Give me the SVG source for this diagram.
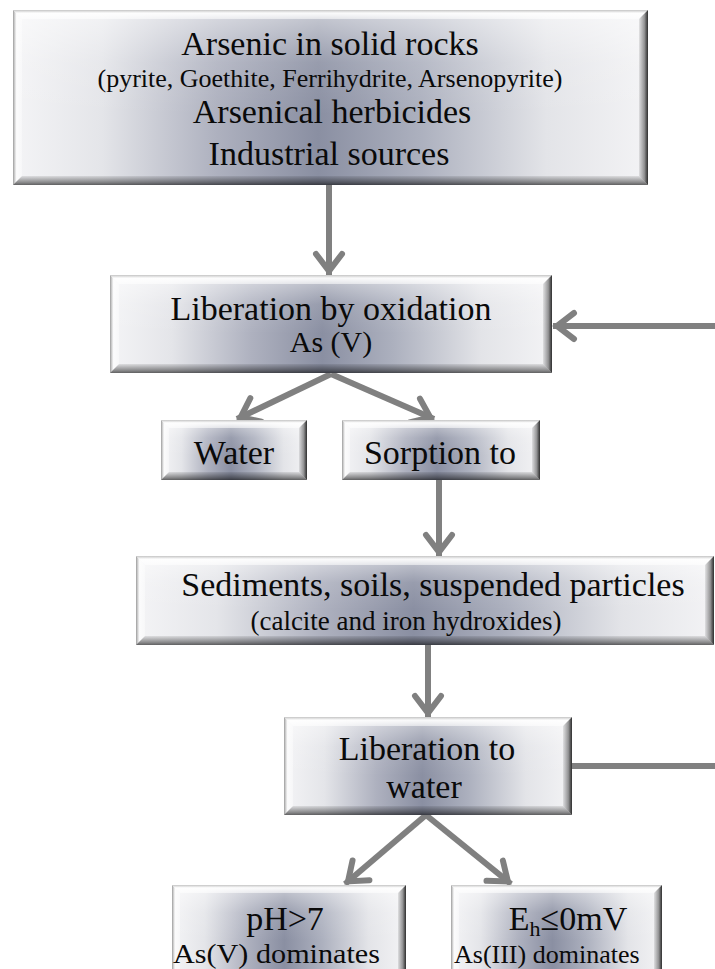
<svg xmlns="http://www.w3.org/2000/svg" width="715" height="969" viewBox="0 0 715 969">
  <style>
    .t { font-family: "Liberation Serif", "Times New Roman", serif; fill: #0a0a0a; text-anchor: middle; }
    .l { text-anchor: start; }
    .big { font-size: 34px; }
    .mid { font-size: 30px; }
    .sml { font-size: 26px; }
    .face { fill: url(#face); }
    .gloss { fill: url(#gloss); }
    .bt { fill: url(#bevT); }
    .bl { fill: url(#bevL); }
    .br { fill: url(#bevR); }
    .bb { fill: url(#bevB); }
    .conn { fill: none; stroke: #808080; stroke-width: 6; }
    .arr { marker-end: url(#ah); }
  </style>
  <defs>
    <!-- brushed-metal face, dark band across the middle -->
    <linearGradient id="face" x1="0" y1="0" x2="1" y2="0">
      <stop offset="0" stop-color="#f4f4f6"/>
      <stop offset="0.14" stop-color="#e4e5e9"/>
      <stop offset="0.32" stop-color="#aeb1bf"/>
      <stop offset="0.48" stop-color="#8a8fa2"/>
      <stop offset="0.64" stop-color="#acb0be"/>
      <stop offset="0.84" stop-color="#e3e4e8"/>
      <stop offset="1" stop-color="#f3f3f5"/>
    </linearGradient>
    <linearGradient id="gloss" x1="0" y1="0" x2="0" y2="1">
      <stop offset="0" stop-color="#ffffff" stop-opacity="0.55"/>
      <stop offset="0.3" stop-color="#ffffff" stop-opacity="0.12"/>
      <stop offset="0.6" stop-color="#ffffff" stop-opacity="0"/>
    </linearGradient>
    <!-- bevel shading for the four sides -->
    <linearGradient id="bevT" x1="0" y1="0" x2="0" y2="1">
      <stop offset="0" stop-color="#c4c4c4"/>
      <stop offset="0.35" stop-color="#ffffff" stop-opacity="0.9"/>
      <stop offset="1" stop-color="#ffffff" stop-opacity="0.55"/>
    </linearGradient>
    <linearGradient id="bevL" x1="0" y1="0" x2="1" y2="0">
      <stop offset="0" stop-color="#9a9a9a"/>
      <stop offset="0.4" stop-color="#ffffff" stop-opacity="0.7"/>
      <stop offset="1" stop-color="#ffffff" stop-opacity="0.4"/>
    </linearGradient>
    <linearGradient id="bevR" x1="0" y1="0" x2="1" y2="0">
      <stop offset="0" stop-color="#000000" stop-opacity="0.08"/>
      <stop offset="0.6" stop-color="#000000" stop-opacity="0.4"/>
      <stop offset="1" stop-color="#1a1a1a" stop-opacity="0.9"/>
    </linearGradient>
    <linearGradient id="bevB" x1="0" y1="0" x2="0" y2="1">
      <stop offset="0" stop-color="#000000" stop-opacity="0.08"/>
      <stop offset="0.7" stop-color="#000000" stop-opacity="0.42"/>
      <stop offset="1" stop-color="#000000" stop-opacity="0.6"/>
    </linearGradient>
    <!-- open chevron head for the grey connectors -->
    <marker id="ah" markerUnits="userSpaceOnUse" markerWidth="44" markerHeight="44" viewBox="-32 -22 44 44" refX="0" refY="0" orient="auto">
      <path d="M-21,-13 L-4,0 L-21,13" fill="none" stroke="#808080" stroke-width="6" stroke-linecap="round" stroke-linejoin="miter"/>
    </marker>
  </defs>

  <!-- connectors -->
  <g id="connectors">
    <line class="conn arr" x1="329" y1="185" x2="329" y2="275"/>
    <line class="conn arr" x1="715" y1="326" x2="553" y2="326"/>
    <line class="conn arr" x1="331" y1="374" x2="237" y2="419"/>
    <line class="conn arr" x1="331" y1="374" x2="434" y2="419"/>
    <line class="conn arr" x1="439" y1="480" x2="439" y2="556"/>
    <line class="conn arr" x1="428" y1="645" x2="428" y2="717"/>
    <line class="conn" x1="572" y1="766" x2="715" y2="766"/>
    <line class="conn arr" x1="426" y1="815" x2="345" y2="884"/>
    <line class="conn arr" x1="426" y1="815" x2="511" y2="884"/>
  </g>

  <!-- sources -->
  <g id="sources">
    <rect class="face" x="13" y="10" width="635" height="175"/>
    <rect class="gloss" x="13" y="10" width="635" height="175"/>
    <polygon class="bt" points="13,10 648,10 639,19 22,19"/>
    <polygon class="bl" points="13,10 22,19 22,176 13,185"/>
    <polygon class="br" points="648,10 639,19 639,176 648,185"/>
    <polygon class="bb" points="13,185 648,185 639,176 22,176"/>
    <text class="t big" x="330" y="55">Arsenic in solid rocks</text>
    <text class="t sml" x="330" y="87">(pyrite, Goethite, Ferrihydrite, Arsenopyrite)</text>
    <text class="t big" x="332" y="123">Arsenical herbicides</text>
    <text class="t big" x="329" y="165">Industrial sources</text>
  </g>

  <!-- liberation by oxidation -->
  <g id="oxidation">
    <rect class="face" x="110" y="275" width="442" height="98"/>
    <rect class="gloss" x="110" y="275" width="442" height="98"/>
    <polygon class="bt" points="110,275 552,275 543,284 119,284"/>
    <polygon class="bl" points="110,275 119,284 119,364 110,373"/>
    <polygon class="br" points="552,275 543,284 543,364 552,373"/>
    <polygon class="bb" points="110,373 552,373 543,364 119,364"/>
    <text class="t big" x="331" y="320">Liberation by oxidation</text>
    <text class="t mid" x="331" y="352">As (V)</text>
  </g>

  <!-- water -->
  <g id="water">
    <rect class="face" x="161" y="420" width="146" height="60"/>
    <rect class="gloss" x="161" y="420" width="146" height="60"/>
    <polygon class="bt" points="161,420 307,420 299,428 169,428"/>
    <polygon class="bl" points="161,420 169,428 169,472 161,480"/>
    <polygon class="br" points="307,420 299,428 299,472 307,480"/>
    <polygon class="bb" points="161,480 307,480 299,472 169,472"/>
    <text class="t big" x="234" y="464">Water</text>
  </g>

  <!-- sorption -->
  <g id="sorption">
    <rect class="face" x="342" y="420" width="198" height="60"/>
    <rect class="gloss" x="342" y="420" width="198" height="60"/>
    <polygon class="bt" points="342,420 540,420 532,428 350,428"/>
    <polygon class="bl" points="342,420 350,428 350,472 342,480"/>
    <polygon class="br" points="540,420 532,428 532,472 540,480"/>
    <polygon class="bb" points="342,480 540,480 532,472 350,472"/>
    <text class="t big" x="440" y="464">Sorption to</text>
  </g>

  <!-- sediments -->
  <g id="sediments">
    <rect class="face" x="136" y="556" width="578" height="89"/>
    <rect class="gloss" x="136" y="556" width="578" height="89"/>
    <polygon class="bt" points="136,556 714,556 705,565 145,565"/>
    <polygon class="bl" points="136,556 145,565 145,636 136,645"/>
    <polygon class="br" points="714,556 705,565 705,636 714,645"/>
    <polygon class="bb" points="136,645 714,645 705,636 145,636"/>
    <text class="t big" x="433" y="596">Sediments, soils, suspended particles</text>
    <text class="t" x="406" y="630" font-size="27">(calcite and iron hydroxides)</text>
  </g>

  <!-- liberation to water -->
  <g id="release">
    <rect class="face" x="284" y="717" width="288" height="98"/>
    <rect class="gloss" x="284" y="717" width="288" height="98"/>
    <polygon class="bt" points="284,717 572,717 563,726 293,726"/>
    <polygon class="bl" points="284,717 293,726 293,806 284,815"/>
    <polygon class="br" points="572,717 563,726 563,806 572,815"/>
    <polygon class="bb" points="284,815 572,815 563,806 293,806"/>
    <text class="t big" x="427" y="760">Liberation to</text>
    <text class="t big" x="424" y="798">water</text>
  </g>

  <!-- pH condition -->
  <g id="ph">
    <rect class="face" x="172" y="885" width="234" height="92"/>
    <rect class="gloss" x="172" y="885" width="234" height="92"/>
    <polygon class="bt" points="172,885 406,885 398,893 180,893"/>
    <polygon class="bl" points="172,885 180,893 180,969 172,977"/>
    <polygon class="br" points="406,885 398,893 398,969 406,977"/>
    <text class="t big" x="285" y="930">pH&gt;7</text>
    <text class="t l" x="173" y="963" font-size="27" textLength="207" lengthAdjust="spacingAndGlyphs">As(V) dominates</text>
  </g>

  <!-- redox condition -->
  <g id="eh">
    <rect class="face" x="451" y="885" width="211" height="92"/>
    <rect class="gloss" x="451" y="885" width="211" height="92"/>
    <polygon class="bt" points="451,885 662,885 654,893 459,893"/>
    <polygon class="bl" points="451,885 459,893 459,969 451,977"/>
    <polygon class="br" points="662,885 654,893 654,969 662,977"/>
    <text class="t big" x="568" y="930">E<tspan font-size="22" dy="6">h</tspan><tspan dy="-6">≤0mV</tspan></text>
    <text class="t l sml" x="454" y="963">As(III) dominates</text>
  </g>
</svg>
